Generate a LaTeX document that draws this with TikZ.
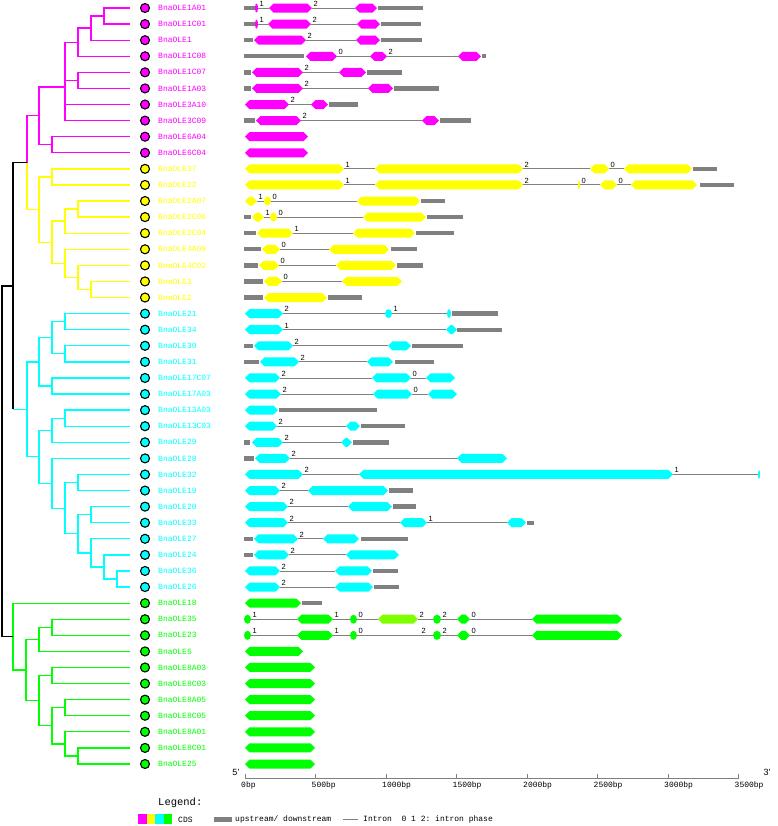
\documentclass[tikz,border=0pt]{standalone}
\usepackage{fontspec}
\setmonofont{Liberation Mono}
\setsansfont{Liberation Sans}
\usepackage{tikz}
\usetikzlibrary{calc}
\definecolor{olemag}{RGB}{255,0,255}
\definecolor{oleyel}{RGB}{255,255,0}
\definecolor{olecya}{RGB}{0,255,255}
\definecolor{olegrn}{RGB}{0,255,0}
\definecolor{olelgn}{RGB}{128,255,0}
\definecolor{utrgray}{RGB}{128,128,128}

\newcommand\utr[3]{%
  \pgfmathsetmacro\utw{#3-#2}%
  \fill[utrgray] (#2,#1) ++(0pt,-2.2pt) rectangle ++(\utw pt,4.4pt);}
\newcommand\exon[4]{%
  \pgfmathsetmacro\exw{#3-#2}%
  \pgfmathsetmacro\ext{min(4.5,\exw/2)}%
  \pgfmathsetmacro\exm{\exw-2*\ext}%
  \pgfmathsetmacro\exr{\exw/2}%
  \ifdim\exw pt<11pt
    \fill[#4] ({(#2+#3)/2},#1) ellipse [x radius=\exr pt, y radius=4.5pt];
  \else
    \fill[#4] (#2,#1) -- ++(\ext pt,4.5pt) -- ++(\exm pt,0pt) -- ++(\ext pt,-4.5pt)
      -- ++(-\ext pt,-4.5pt) -- ++(-\exm pt,0pt) -- cycle;
  \fi}
\newcommand\intron[4]{%
  \draw[intronline] (#2,#1) -- (#3,#1);
  \node[phase] (p#1-#2) at (#2,#1) {#4};}

\begin{document}
\begin{tikzpicture}[x=1pt,y=-16.085pt,
  tree/.style={line width=1.3pt},
  leafdot/.style={circle,draw=black,line width=1.1pt,minimum size=9pt,inner sep=0pt},
  leaflab/.style={anchor=west,inner sep=0pt,font=\ttfamily\fontsize{8}{9}\selectfont},
  intronline/.style={draw=utrgray,line width=0.9pt},
  phase/.style={anchor=south west,inner sep=0pt,xshift=1.5pt,yshift=1.5pt,font=\sffamily\fontsize{7.5}{8}\selectfont},
  axisline/.style={draw=utrgray,line width=0.8pt},
  axlab/.style={anchor=west,inner sep=0pt,font=\ttfamily\fontsize{8}{9}\selectfont},
  endlab/.style={inner sep=0pt,font=\sffamily\fontsize{9}{9}\selectfont},
  legtitle/.style={anchor=west,inner sep=0pt,font=\ttfamily\fontsize{10.5}{11}\selectfont}
]
\useasboundingbox (0,-0.4974) rectangle (778,50.855);

\foreach \i/\nm/\cl in {0/1A01/olemag,1/1C01/olemag,2/1/olemag,3/1C08/olemag,4/1C07/olemag,
  5/1A03/olemag,6/3A10/olemag,7/3C09/olemag,8/6A04/olemag,9/6C04/olemag,
  10/37/oleyel,11/22/oleyel,12/2A07/oleyel,13/2C06/oleyel,14/2C04/oleyel,15/4A09/oleyel,
  16/4C02/oleyel,17/3/oleyel,18/2/oleyel,
  19/21/olecya,20/34/olecya,21/30/olecya,22/31/olecya,23/17C07/olecya,24/17A03/olecya,
  25/13A03/olecya,26/13C03/olecya,27/29/olecya,28/28/olecya,29/32/olecya,30/19/olecya,
  31/20/olecya,32/33/olecya,33/27/olecya,34/24/olecya,35/36/olecya,36/26/olecya,
  37/18/olegrn,38/35/olegrn,39/23/olegrn,40/5/olegrn,41/8A03/olegrn,42/8C03/olegrn,
  43/8A05/olegrn,44/8C05/olegrn,45/8A01/olegrn,46/8C01/olegrn,47/25/olegrn}{
  \coordinate (l\i) at (130,\i);
  \node[leafdot,fill=\cl] (d\i) at (145,\i) {};
  \node[leaflab,text=\cl] (n\i) at (158,\i) {BnaOLE\nm};
}

\coordinate (m1) at (104,0.5);
\coordinate (m2) at (91,1.25);
\coordinate (m3) at (78,2.125);
\coordinate (m4) at (78,4.5);
\coordinate (m5) at (65,3.3125);
\coordinate (m6) at (65,6.5);
\coordinate (m7) at (65,4.906);
\coordinate (m8) at (52,8.5);
\coordinate (m9) at (39,6.703);
\coordinate (y1) at (52,10.5);
\coordinate (y2) at (78,12.5);
\coordinate (y3) at (65,13.25);
\coordinate (y5) at (91,17.5);
\coordinate (y6) at (78,16.75);
\coordinate (y7) at (65,15.875);
\coordinate (y8) at (52,14.5625);
\coordinate (y9) at (39,12.531);
\coordinate (my) at (27,9.617);
\coordinate (c1) at (65,19.5);
\coordinate (c2) at (65,21.5);
\coordinate (c3) at (52,20.5);
\coordinate (c4) at (52,23.5);
\coordinate (c5) at (39,22);
\coordinate (c6) at (65,25.5);
\coordinate (c7) at (52,26.25);
\coordinate (c9) at (78,29.5);
\coordinate (c10) at (91,31.5);
\coordinate (c13) at (117,35.5);
\coordinate (c12) at (104,34.75);
\coordinate (c11) at (91,33.875);
\coordinate (c14) at (78,32.688);
\coordinate (c15) at (65,31.094);
\coordinate (c8) at (52,29.547);
\coordinate (c16) at (39,27.898);
\coordinate (c17) at (27,24.949);
\coordinate (r1) at (13,17.283);
\coordinate (g2) at (52,38.5);
\coordinate (g3) at (39,39.25);
\coordinate (g4) at (52,41.5);
\coordinate (g5) at (65,43.5);
\coordinate (g6) at (78,46.5);
\coordinate (g7) at (65,45.75);
\coordinate (g8) at (52,44.625);
\coordinate (g9) at (39,43.063);
\coordinate (g1) at (26,41.156);
\coordinate (gt) at (13,39.078);
\coordinate (root) at (2,28.181);

\draw[tree,olemag] (m1) |- (l0) (m1) |- (l1) (m2) |- (m1) (m2) |- (l2)
  (m3) |- (m2) (m3) |- (l3) (m4) |- (l4) (m4) |- (l5) (m5) |- (m3) (m5) |- (m4)
  (m6) |- (l6) (m6) |- (l7) (m7) |- (m5) (m7) |- (m6) (m8) |- (l8) (m8) |- (l9)
  (m9) |- (m7) (m9) |- (m8) (my) |- (m9);
\draw[tree,oleyel] (y1) |- (l10) (y1) |- (l11) (y2) |- (l12) (y2) |- (l13)
  (y3) |- (y2) (y3) |- (l14) (y5) |- (l17) (y5) |- (l18) (y6) |- (l16) (y6) |- (y5)
  (y7) |- (l15) (y7) |- (y6) (y8) |- (y3) (y8) |- (y7) (y9) |- (y1) (y9) |- (y8)
  (my) |- (y9);
\draw[tree,olecya] (c1) |- (l19) (c1) |- (l20) (c2) |- (l21) (c2) |- (l22)
  (c3) |- (c1) (c3) |- (c2) (c4) |- (l23) (c4) |- (l24) (c5) |- (c3) (c5) |- (c4)
  (c6) |- (l25) (c6) |- (l26) (c7) |- (c6) (c7) |- (l27) (c9) |- (l29) (c9) |- (l30)
  (c10) |- (l31) (c10) |- (l32) (c13) |- (l35) (c13) |- (l36) (c12) |- (l34) (c12) |- (c13)
  (c11) |- (l33) (c11) |- (c12) (c14) |- (c10) (c14) |- (c11) (c15) |- (c9) (c15) |- (c14)
  (c8) |- (l28) (c8) |- (c15) (c16) |- (c7) (c16) |- (c8) (c17) |- (c5) (c17) |- (c16)
  (r1 |- c17) -- (c17);
\draw[tree,olegrn] (g2) |- (l38) (g2) |- (l39) (g3) |- (g2) (g3) |- (l40)
  (g4) |- (l41) (g4) |- (l42) (g5) |- (l43) (g5) |- (l44) (g6) |- (l46) (g6) |- (l47)
  (g7) |- (l45) (g7) |- (g6) (g8) |- (g5) (g8) |- (g7) (g9) |- (g4) (g9) |- (g8)
  (g1) |- (g3) (g1) |- (g9) (gt) |- (l37) (gt) |- (g1);
\draw[tree,black] (r1) |- (my) (r1) -- (r1 |- c17) (root) |- (r1) (root) |- (gt);

\utr{0}{244}{255}\exon{0}{255}{258}{olemag}\intron{0}{258}{269}{1}\exon{0}{269}{312}{olemag}\intron{0}{312}{355}{2}\exon{0}{355}{377}{olemag}\utr{0}{378}{423}
\utr{1}{244}{255}\exon{1}{255}{258}{olemag}\intron{1}{258}{268}{1}\exon{1}{268}{311}{olemag}\intron{1}{311}{357}{2}\exon{1}{357}{380}{olemag}\utr{1}{381}{421}
\utr{2}{244}{253}\exon{2}{254}{306}{olemag}\intron{2}{306}{356}{2}\exon{2}{356}{380}{olemag}\utr{2}{381}{422}
\utr{3}{244}{304}\exon{3}{306}{337}{olemag}\intron{3}{337}{370}{0}\exon{3}{370}{387}{olemag}\intron{3}{387}{458}{2}\exon{3}{458}{481}{olemag}\utr{3}{482}{486}
\utr{4}{244}{251}\exon{4}{252}{303}{olemag}\intron{4}{303}{339}{2}\exon{4}{339}{366}{olemag}\utr{4}{367}{402}
\utr{5}{244}{251}\exon{5}{252}{303}{olemag}\intron{5}{303}{368}{2}\exon{5}{368}{393}{olemag}\utr{5}{394}{439}
\exon{6}{245}{289}{olemag}\intron{6}{289}{311}{2}\exon{6}{311}{328}{olemag}\utr{6}{329}{358}
\utr{7}{244}{255}\exon{7}{256}{301}{olemag}\intron{7}{301}{422}{2}\exon{7}{422}{439}{olemag}\utr{7}{440}{471}
\exon{8}{245}{308}{olemag}
\exon{9}{245}{308}{olemag}

\exon{10}{245}{344}{oleyel}\intron{10}{344}{375}{1}\exon{10}{375}{523}{oleyel}\intron{10}{523}{590}{2}\exon{10}{590}{609}{oleyel}\intron{10}{609}{624}{0}\exon{10}{624}{692}{oleyel}\utr{10}{693}{717}
\exon{11}{245}{344}{oleyel}\intron{11}{344}{375}{1}\exon{11}{375}{523}{oleyel}\intron{11}{523}{578}{2}\exon{11}{578}{580}{oleyel}\intron{11}{580}{600}{0}\exon{11}{600}{617}{oleyel}\intron{11}{617}{631}{0}\exon{11}{631}{697}{oleyel}\utr{11}{700}{734}
\exon{12}{245}{257}{oleyel}\intron{12}{257}{264}{1}\exon{12}{264}{271}{oleyel}\intron{12}{271}{357}{0}\exon{12}{357}{420}{oleyel}\utr{12}{421}{445}
\utr{13}{244}{251}\exon{13}{252}{264}{oleyel}\intron{13}{264}{270}{1}\exon{13}{270}{277}{oleyel}\intron{13}{277}{363}{0}\exon{13}{363}{426}{oleyel}\utr{13}{427}{463}
\utr{14}{244}{256}\exon{14}{257}{293}{oleyel}\intron{14}{293}{353}{1}\exon{14}{353}{415}{oleyel}\utr{14}{416}{454}
\utr{15}{244}{261}\exon{15}{262}{280}{oleyel}\intron{15}{280}{329}{0}\exon{15}{329}{389}{oleyel}\utr{15}{391}{417}
\utr{16}{244}{258}\exon{16}{259}{279}{oleyel}\intron{16}{279}{336}{0}\exon{16}{336}{396}{oleyel}\utr{16}{397}{423}
\utr{17}{244}{263}\exon{17}{264}{282}{oleyel}\intron{17}{282}{342}{0}\exon{17}{342}{402}{oleyel}
\utr{18}{244}{263}\exon{18}{264}{327}{oleyel}\utr{18}{328}{362}

\exon{19}{245}{283}{olecya}\intron{19}{283}{385}{2}\exon{19}{385}{392}{olecya}\intron{19}{392}{447}{1}\exon{19}{447}{451}{olecya}\utr{19}{452}{498}
\exon{20}{245}{283}{olecya}\intron{20}{283}{446}{1}\exon{20}{446}{457}{olecya}\utr{20}{457}{502}
\utr{21}{244}{253}\exon{21}{254}{293}{olecya}\intron{21}{293}{388}{2}\exon{21}{388}{411}{olecya}\utr{21}{412}{463}
\utr{22}{244}{259}\exon{22}{260}{299}{olecya}\intron{22}{299}{367}{2}\exon{22}{367}{393}{olecya}\utr{22}{395}{434}
\exon{23}{245}{280}{olecya}\intron{23}{280}{372}{2}\exon{23}{372}{411}{olecya}\intron{23}{411}{426}{0}\exon{23}{426}{455}{olecya}
\exon{24}{245}{281}{olecya}\intron{24}{281}{373}{2}\exon{24}{373}{412}{olecya}\intron{24}{412}{428}{0}\exon{24}{428}{457}{olecya}
\exon{25}{245}{278}{olecya}\utr{25}{279}{377}
\exon{26}{245}{277}{olecya}\intron{26}{277}{346}{2}\exon{26}{346}{360}{olecya}\utr{26}{361}{405}
\utr{27}{244}{250}\exon{27}{252}{283}{olecya}\intron{27}{283}{341}{2}\exon{27}{341}{352}{olecya}\utr{27}{353}{389}
\utr{28}{244}{254}\exon{28}{255}{290}{olecya}\intron{28}{290}{457}{2}\exon{28}{457}{507}{olecya}
\exon{29}{245}{303}{olecya}\intron{29}{303}{359}{2}\exon{29}{359}{673}{olecya}\intron{29}{673}{758}{1}\exon{29}{758}{760}{olecya}
\exon{30}{245}{280}{olecya}\intron{30}{280}{308}{2}\exon{30}{308}{388}{olecya}\utr{30}{389}{413}
\exon{31}{245}{288}{olecya}\intron{31}{288}{348}{2}\exon{31}{348}{392}{olecya}\utr{31}{393}{416}
\exon{32}{245}{288}{olecya}\intron{32}{288}{400}{2}\exon{32}{400}{427}{olecya}\intron{32}{427}{507}{1}\exon{32}{507}{526}{olecya}\utr{32}{527}{534}
\utr{33}{244}{253}\exon{33}{254}{298}{olecya}\intron{33}{298}{323}{2}\exon{33}{323}{359}{olecya}\utr{33}{361}{408}
\utr{34}{244}{253}\exon{34}{254}{289}{olecya}\intron{34}{289}{346}{2}\exon{34}{346}{399}{olecya}
\exon{35}{245}{280}{olecya}\intron{35}{280}{335}{2}\exon{35}{335}{372}{olecya}\utr{35}{373}{398}
\exon{36}{245}{280}{olecya}\intron{36}{280}{335}{2}\exon{36}{335}{373}{olecya}\utr{36}{374}{399}

\exon{37}{245}{301}{olegrn}\utr{37}{302}{322}
\exon{38}{244}{251}{olegrn}\intron{38}{251}{297}{1}\exon{38}{297}{333}{olegrn}\intron{38}{333}{350}{1}\exon{38}{350}{357}{olegrn}\intron{38}{357}{378}{0}\exon{38}{378}{418}{olelgn}\intron{38}{418}{433}{2}\exon{38}{433}{441}{olegrn}\intron{38}{441}{457}{2}\exon{38}{457}{470}{olegrn}\intron{38}{470}{532}{0}\exon{38}{532}{622}{olegrn}
\exon{39}{244}{251}{olegrn}\intron{39}{251}{297}{1}\exon{39}{297}{333}{olegrn}\intron{39}{333}{350}{1}\exon{39}{350}{357}{olegrn}\intron{39}{357}{420}{0}\intron{39}{420}{433}{2}\exon{39}{433}{441}{olegrn}\intron{39}{441}{457}{2}\exon{39}{457}{470}{olegrn}\intron{39}{470}{532}{0}\exon{39}{532}{622}{olegrn}
\exon{40}{245}{303}{olegrn}
\foreach \r in {41,...,47}{\exon{\r}{245}{315}{olegrn}}

\coordinate (ax0) at (245,47.87);
\coordinate (ax7) at (738.5,47.87);
\draw[axisline] (ax0) -- (ax7);
\foreach \k/\lb in {0/0bp,1/500bp,2/1000bp,3/1500bp,4/2000bp,5/2500bp,6/3000bp,7/3500bp}{
  \pgfmathsetmacro\tx{245+70.5*\k}
  \coordinate (tk\k) at (\tx,47.87);
  \draw[axisline] (tk\k) -- ++(0pt,3.5pt);
  \node[axlab] (tl\k) at ({\tx-4},48.31) {\lb};
}
\node[endlab] (five) at (236,47.5) {5\textquoteright};
\node[endlab] (three) at (767,47.5) {3\textquoteright};

\node[legtitle] (legend) at (158,49.43) {Legend:};
\fill[olemag] (138,50.45) ++(0pt,-5pt) rectangle ++(8.5pt,10pt);
\fill[oleyel] (146.5,50.45) ++(0pt,-5pt) rectangle ++(8.5pt,10pt);
\fill[olecya] (155,50.45) ++(0pt,-5pt) rectangle ++(8.5pt,10pt);
\fill[olegrn] (163.5,50.45) ++(0pt,-5pt) rectangle ++(8.5pt,10pt);
\node[axlab] (cds) at (178,50.45) {CDS};
\utr{50.45}{214}{232}
\node[axlab] (updown) at (235,50.45) {upstream/ downstream};
\coordinate (li0) at (343,50.45);
\coordinate (li1) at (358,50.45);
\draw[intronline] (li0) -- (li1);
\node[axlab] (phasekey) at (363,50.45) {Intron\ \ 0 1 2: intron phase};
\end{tikzpicture}
\end{document}
